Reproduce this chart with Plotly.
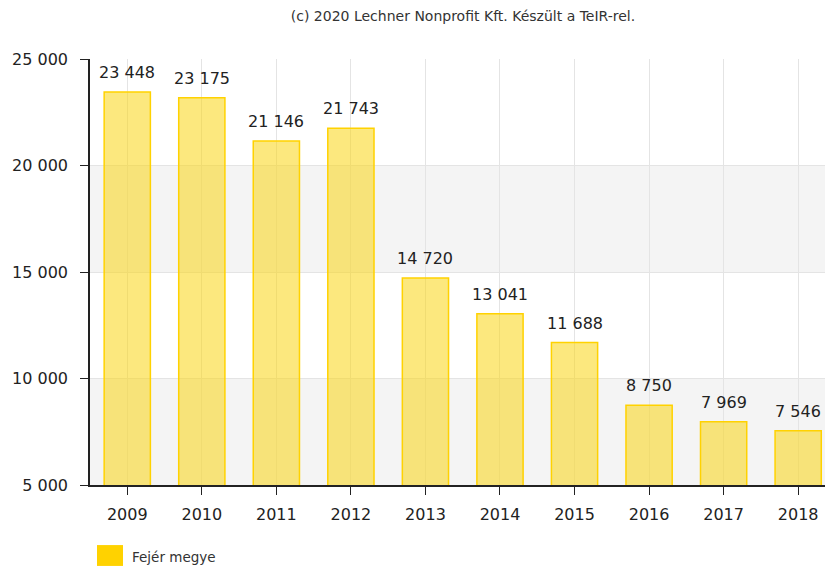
import plotly.graph_objects as go

years = ["2009", "2010", "2011", "2012", "2013", "2014", "2015", "2016", "2017", "2018"]
values = [23448, 23175, 21146, 21743, 14720, 13041, 11688, 8750, 7969, 7546]
series_name = "Fejér megye"
title_text = "(c) 2020 Lechner Nonprofit Kft. Készült a TeIR-rel."
band_ranges = [(5000, 10000), (15000, 20000)]

font_family = "Verdana, DejaVu Sans, sans-serif"

fig = go.Figure()
fig.add_trace(go.Bar(
    x=years, y=values,
    width=0.62,
    marker=dict(color="rgba(250,214,20,0.55)", line=dict(color="#FFD200", width=1.5)),
    name=series_name, showlegend=False, hoverinfo="x+y",
))

annotations = []
for i, v in enumerate(values):
    annotations.append(dict(x=i, y=v, xref="x", yref="y", text=f"{v:,}".replace(",", " "),
                            showarrow=False, yanchor="bottom", yshift=8,
                            font=dict(size=16, color="#222", family=font_family)))
annotations.append(dict(text=series_name, xref="paper", yref="paper", x=0.054, y=-0.169,
                        xanchor="left", yanchor="middle", showarrow=False,
                        font=dict(size=13.5, color="#333", family=font_family)))

shapes = []
for lo, hi in band_ranges:
    shapes.append(dict(type="rect", xref="paper", yref="y", x0=0, x1=1, y0=lo, y1=hi,
                       fillcolor="#f4f4f4", line=dict(width=0), layer="below"))
# legend swatch
shapes.append(dict(type="rect", xref="paper", yref="paper", x0=0.0095, x1=0.0449,
                   y0=-0.190, y1=-0.141, fillcolor="#FFD200", line=dict(width=0)))

fig.update_layout(
    width=825, height=567,
    margin=dict(l=90, r=0, t=59, b=82),
    paper_bgcolor="white", plot_bgcolor="white",
    separators=", ",
    font=dict(family=font_family, color="#222"),
    shapes=shapes,
    annotations=annotations,
    title=dict(text=title_text, x=463 / 825, xanchor="center", y=1 - 16 / 567, yanchor="middle",
               font=dict(size=14, color="#333", family=font_family)),
    xaxis=dict(type="category", range=[-0.5, 9.36], showline=True, linecolor="#222", linewidth=1.5,
               ticks="outside", ticklen=8, tickcolor="#222", showgrid=True,
               gridcolor="#e4e4e4", tickfont=dict(size=16, color="#222"),
               ticklabelstandoff=6),
    yaxis=dict(range=[5000, 25000], tickvals=[5000, 10000, 15000, 20000, 25000],
               tickformat=",", showline=True, linecolor="#222", linewidth=1.5,
               ticks="outside", ticklen=8, tickcolor="#222", showgrid=True,
               gridcolor="#e4e4e4", zeroline=False, tickfont=dict(size=16, color="#222"),
               ticklabelstandoff=9),
)

fig.write_html("out.html", config={"displayModeBar": False})

with open("out.html", "r", encoding="utf-8") as f:
    html = f.read()
html = html.replace("<body>", '<body style="margin:0;padding:0;overflow:hidden">', 1)
with open("out.html", "w", encoding="utf-8") as f:
    f.write(html)
